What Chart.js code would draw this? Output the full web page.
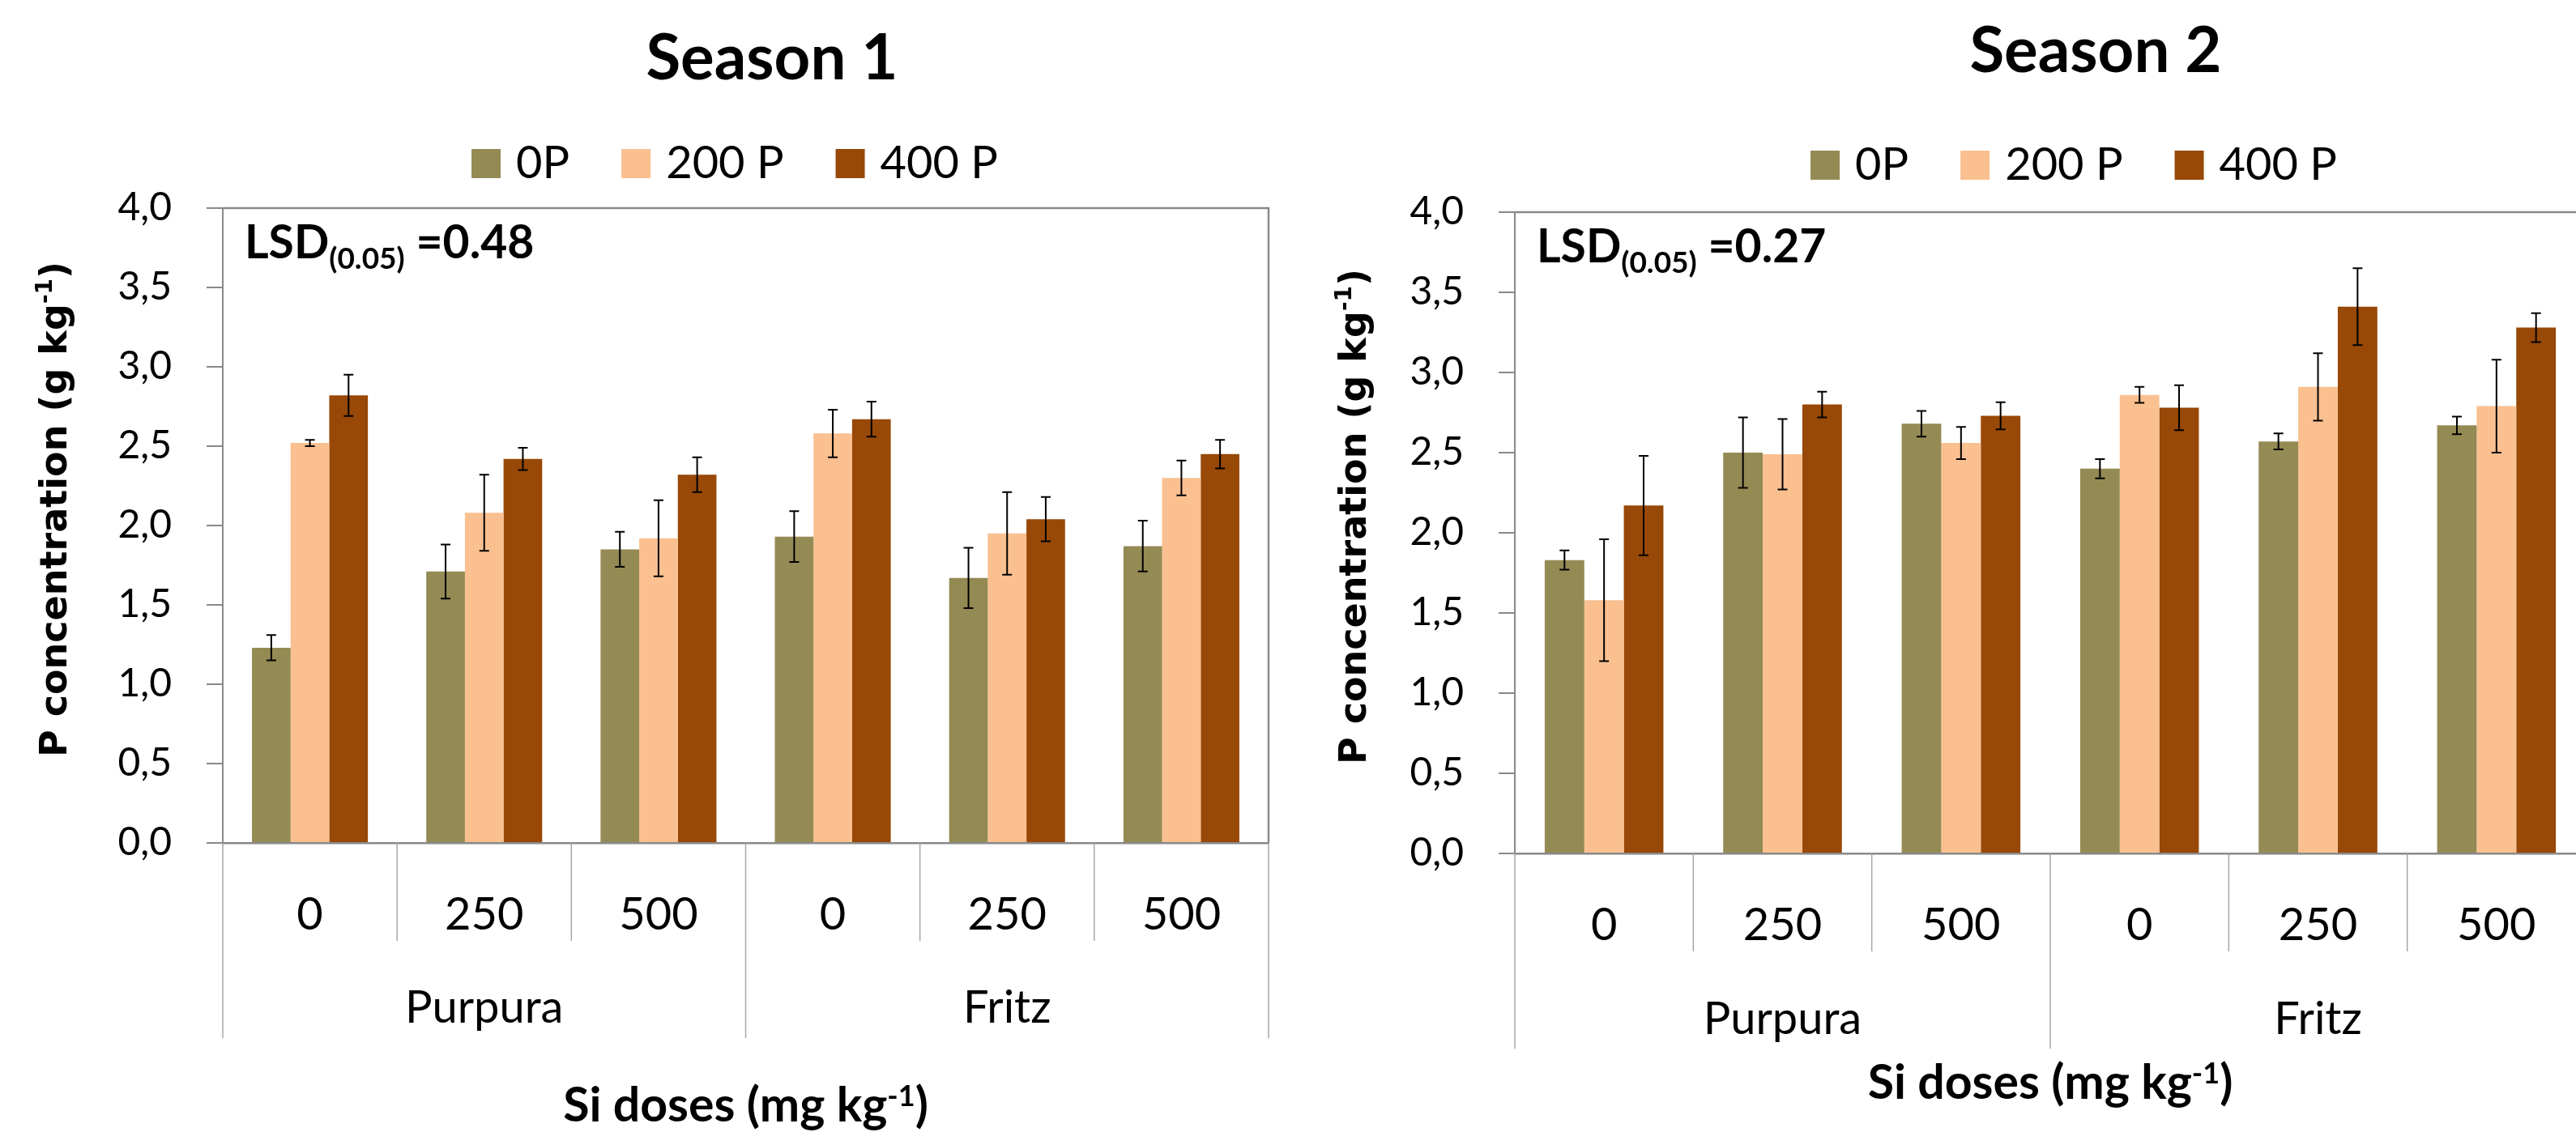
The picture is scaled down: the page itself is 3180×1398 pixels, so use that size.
<!DOCTYPE html>
<html>
<head>
<meta charset="utf-8">
<script src="https://cdn.jsdelivr.net/npm/chart.js@4.4.1/dist/chart.umd.min.js"></script>
<style>
  html, body { margin: 0; padding: 0; background: #fff; }
  body { width: 3180px; height: 1398px; overflow: hidden; position: relative; }
  canvas { position: absolute; top: 0; }
</style>
</head>
<body>
<canvas id="season1" width="1590" height="1398" style="left:0px"></canvas>
<canvas id="season2" width="1620" height="1398" style="left:1590px"></canvas>
<script>
// dados
const categories = ['0', '250', '500', '0', '250', '500'];
const cultivars = ['Purpura', 'Fritz'];
const seriesNames = ['0P', '200 P', '400 P'];
const yMin = 0, yMax = 4, yStep = 0.5;

// Season 1
const s1_0P = [1.23, 1.71, 1.85, 1.93, 1.67, 1.87];
const s1_200P = [2.52, 2.08, 1.92, 2.58, 1.95, 2.30];
const s1_400P = [2.82, 2.42, 2.32, 2.67, 2.04, 2.45];
const s1_0P_err = [0.08, 0.17, 0.11, 0.16, 0.19, 0.16];
const s1_200P_err = [0.02, 0.24, 0.24, 0.15, 0.26, 0.11];
const s1_400P_err = [0.13, 0.07, 0.11, 0.11, 0.14, 0.09];
const s1_lsd = '0.48';

// Season 2
const s2_0P = [1.83, 2.50, 2.68, 2.40, 2.57, 2.67];
const s2_200P = [1.58, 2.49, 2.56, 2.86, 2.91, 2.79];
const s2_400P = [2.17, 2.80, 2.73, 2.78, 3.41, 3.28];
const s2_0P_err = [0.06, 0.22, 0.08, 0.06, 0.05, 0.055];
const s2_200P_err = [0.38, 0.22, 0.10, 0.05, 0.21, 0.29];
const s2_400P_err = [0.31, 0.08, 0.085, 0.14, 0.24, 0.09];
const s2_lsd = '0.27';

const cores = ['#948A54', '#FAC090', '#984807'];
const FONTE = 'Lato, "Liberation Sans", sans-serif';
const FONTE_Y = '"DejaVu Sans", Verdana, sans-serif';
const CINZA = '#898989';

// desenha texto com partes (sobrescrito / subscrito)
function textoRico(ctx, partes, x, y, align) {
    let total = 0;
    partes.forEach(p => { ctx.font = p.font; total += ctx.measureText(p.t).width; });
    let cx = align === 'center' ? x - total / 2 : x;
    ctx.textAlign = 'left';
    partes.forEach(p => {
        ctx.font = p.font;
        ctx.fillText(p.t, cx, y + (p.dy || 0));
        cx += ctx.measureText(p.t).width;
    });
}

// plugin para barras de erro
const barrasErro = {
    id: 'barrasErro',
    afterDatasetsDraw(chart) {
        const { ctx, scales: { y } } = chart;
        ctx.save();
        ctx.strokeStyle = '#000';
        ctx.lineWidth = 2;
        chart.data.datasets.forEach((ds, i) => {
            const meta = chart.getDatasetMeta(i);
            meta.data.forEach((bar, j) => {
                const v = ds.data[j], e = ds.erros[j];
                const yt = y.getPixelForValue(v + e);
                const yb = y.getPixelForValue(v - e);
                ctx.beginPath();
                ctx.moveTo(bar.x, yt); ctx.lineTo(bar.x, yb);
                ctx.moveTo(bar.x - 6, yt); ctx.lineTo(bar.x + 6, yt);
                ctx.moveTo(bar.x - 6, yb); ctx.lineTo(bar.x + 6, yb);
                ctx.stroke();
            });
        });
        ctx.restore();
    }
};

// plugin para titulo, legenda, eixos agrupados e textos
const decoracao = {
    id: 'decoracao',
    afterDraw(chart, args, o) {
        const { ctx, chartArea: a, scales: { x } } = chart;
        ctx.save();

        // moldura da area do grafico
        ctx.strokeStyle = CINZA;
        ctx.lineWidth = 2.5;
        ctx.beginPath();
        ctx.moveTo(a.left, a.top);
        ctx.lineTo(a.right, a.top);
        ctx.lineTo(a.right, a.bottom);
        ctx.stroke();

        // divisores das categorias
        const passo = x.getPixelForValue(1) - x.getPixelForValue(0);
        ctx.strokeStyle = '#a6a6a6';
        ctx.lineWidth = 1.5;
        for (let i = 0; i <= categories.length; i++) {
            const px = x.getPixelForValue(0) - passo / 2 + i * passo;
            const longo = i % 3 === 0;
            ctx.beginPath();
            ctx.moveTo(px, a.bottom);
            ctx.lineTo(px, a.bottom + (longo ? 241 : 121));
            ctx.stroke();
        }

        ctx.fillStyle = '#000';
        ctx.textBaseline = 'alphabetic';

        // cultivares
        ctx.font = '56px ' + FONTE;
        ctx.textAlign = 'center';
        cultivars.forEach((c, g) => {
            const cx = (x.getPixelForValue(g * 3) + x.getPixelForValue(g * 3 + 2)) / 2;
            ctx.fillText(c, cx, a.bottom + o.grupoDy);
        });

        // titulo do eixo x
        const xc = (a.left + a.right) / 2;
        textoRico(ctx, [
            { t: 'Si doses (mg kg', font: 'bold 59px ' + FONTE },
            { t: '-1', font: 'bold 36px ' + FONTE, dy: -19 },
            { t: ')', font: 'bold 59px ' + FONTE }
        ], xc, o.tituloXy, 'center');

        // titulo
        ctx.font = 'bold 78px ' + FONTE;
        ctx.textAlign = 'center';
        ctx.fillText(o.titulo, o.tituloX, o.tituloY);

        // legenda
        ctx.font = '56px ' + FONTE;
        let larg = 0;
        seriesNames.forEach((s, i) => {
            larg += 36 + 19 + ctx.measureText(s).width + (i < seriesNames.length - 1 ? 64 : 0);
        });
        let lx = o.legendaX - larg / 2;
        ctx.textAlign = 'left';
        chart.data.datasets.forEach((ds, i) => {
            ctx.fillStyle = ds.backgroundColor;
            ctx.fillRect(lx, o.legendaY - 36, 36, 36);
            ctx.fillStyle = '#000';
            ctx.fillText(ds.label, lx + 55, o.legendaY);
            lx += 55 + ctx.measureText(ds.label).width + 64;
        });

        // LSD
        textoRico(ctx, [
            { t: 'LSD', font: 'bold 57px ' + FONTE },
            { t: '(0.05)', font: 'bold 37px ' + FONTE, dy: 13 },
            { t: ' =' + o.lsd, font: 'bold 57px ' + FONTE }
        ], a.left + 27, a.top + 62, 'left');

        // titulo do eixo y
        ctx.translate(o.tituloYx, (a.top + a.bottom) / 2 - 20);
        ctx.rotate(-Math.PI / 2);
        textoRico(ctx, [
            { t: 'P concentration (g kg', font: 'bold 46px ' + FONTE_Y },
            { t: '-1', font: 'bold 28px ' + FONTE_Y, dy: -18 },
            { t: ')', font: 'bold 46px ' + FONTE_Y }
        ], 0, 16, 'center');

        ctx.restore();
    }
};

function criarGrafico(id, dados, erros, cfg) {
    const ctx = document.getElementById(id).getContext('2d');
    new Chart(ctx, {
        type: 'bar',
        data: {
            labels: categories,
            datasets: seriesNames.map((nome, i) => ({
                label: nome,
                data: dados[i],
                erros: erros[i],
                backgroundColor: cores[i],
                borderWidth: 0,
                categoryPercentage: 0.665,
                barPercentage: 1.0
            }))
        },
        options: {
            responsive: false,
            animation: false,
            layout: { padding: { top: cfg.top, left: 0, right: cfg.right, bottom: 0 } },
            plugins: {
                legend: { display: false },
                title: { display: false },
                tooltip: { enabled: false },
                decoracao: cfg
            },
            scales: {
                x: {
                    grid: { display: false },
                    border: { color: CINZA, width: 2.5 },
                    ticks: {
                        color: '#000',
                        font: { family: FONTE, size: 56 },
                        padding: cfg.tickPad
                    },
                    afterFit: (s) => { s.height = 1398 - cfg.bottom; }
                },
                y: {
                    min: yMin,
                    max: yMax,
                    grid: { drawOnChartArea: false, color: CINZA, lineWidth: 2, tickLength: 20 },
                    border: { color: CINZA, width: 2 },
                    ticks: {
                        stepSize: yStep,
                        color: '#000',
                        padding: 43,
                        font: { family: FONTE, size: 48 },
                        callback: (v) => v.toFixed(1).replace('.', ',')
                    },
                    afterFit: (s) => { s.width = cfg.left; }
                }
            }
        },
        plugins: [barrasErro, decoracao]
    });
}

function criarGraficos() {
    criarGrafico('season1', [s1_0P, s1_200P, s1_400P], [s1_0P_err, s1_200P_err, s1_400P_err], {
        top: 257, bottom: 1041, left: 275, right: 1590 - 1566, tickPad: 47,
        titulo: 'Season 1', tituloX: 953, tituloY: 98,
        legendaX: 907, legendaY: 220, lsd: s1_lsd,
        grupoDy: 222, tituloXy: 1385, tituloYx: 66
    });
    criarGrafico('season2', [s2_0P, s2_200P, s2_400P], [s2_0P_err, s2_200P_err, s2_400P_err], {
        top: 262, bottom: 1054, left: 280, right: 1620 - 1602, tickPad: 47,
        titulo: 'Season 2', tituloX: 997, tituloY: 89,
        legendaX: 970, legendaY: 222, lsd: s2_lsd,
        grupoDy: 223, tituloXy: 1357, tituloYx: 80
    });
}

document.fonts.ready.then(criarGraficos);
</script>
</body>
</html>
